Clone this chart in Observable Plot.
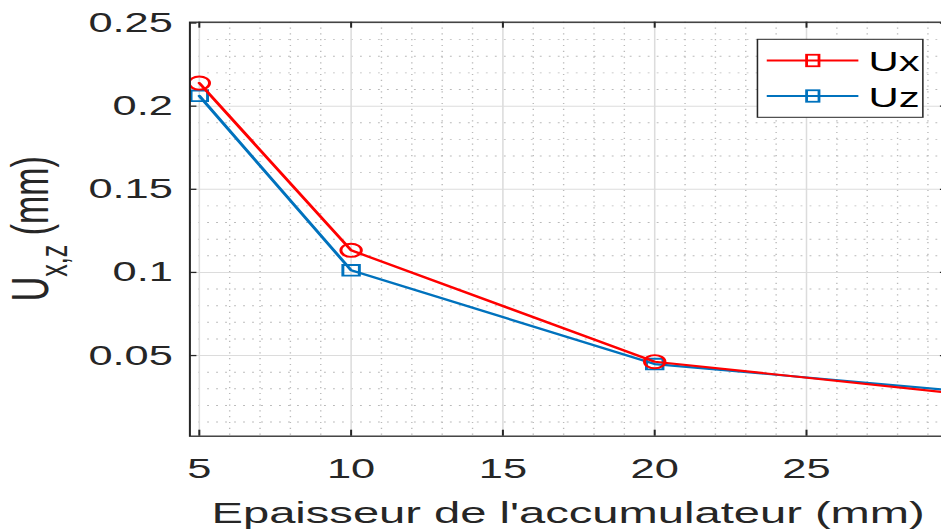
<!DOCTYPE html>
<html>
<head>
<meta charset="utf-8">
<script src="https://cdn.jsdelivr.net/npm/d3@7"></script>
<script src="https://cdn.jsdelivr.net/npm/@observablehq/plot@0.6"></script>
<style>
html, body { margin: 0; padding: 0; background: #fff; overflow: hidden; }
</style>
</head>
<body>
<div id="chart"></div>
<script>
// ---- data ----
const thickness = [5, 10, 20, 30];
const ux = [0.2139, 0.1133, 0.0463, 0.0271];
const uz = [0.2062, 0.1013, 0.0449, 0.0288];
const seriesNames = ["Ux", "Uz"];
const seriesColors = ["#ff0000", "#0072bd"];
const xTicks = [5, 10, 15, 20, 25];
const xTickLabels = ["5", "10", "15", "20", "25"];
const yTicks = [0.05, 0.1, 0.15, 0.2, 0.25];
const yTickLabels = ["0.05", "0.1", "0.15", "0.2", "0.25"];
const xLabel = "Epaisseur de l'accumulateur (mm)";
const yLabelMain = "U", yLabelSub = "x,z", yLabelUnit = " (mm)";

// ---- layout ----
const FONT = "'Liberation Sans', Arial, Helvetica, sans-serif";
const OUT_W = 941, H = 531;
const W0 = 607;                    // base width, stretched horizontally to 941
const xDomain = [4.69, 29.66], yDomain = [0.0015, 0.2505];
const mL = 122, mR = -4, mT = 21.7, mB = 95.3;
const frameW = (W0 - mR) - mL;
const frameH = H - mT - mB;

const xMinor = d3.range(5, 30).filter(v => v % 5 !== 0);
const yMinor = d3.range(1, 26).map(v => v / 100).filter((v, i) => (i + 1) % 5 !== 0);

const uxRows = thickness.map((t, i) => ({t, v: ux[i]}));
const uzRows = thickness.map((t, i) => ({t, v: uz[i]}));

const axisColor = "#262626";

const svg = Plot.plot({
  width: W0, height: H,
  marginLeft: mL, marginRight: mR, marginTop: mT, marginBottom: mB,
  x: {domain: xDomain},
  y: {domain: yDomain},
  style: {fontFamily: FONT, background: "white", color: axisColor},
  marks: [
    Plot.ruleY(yMinor, {stroke: "#b9b9b9", strokeWidth: 0.9, strokeDasharray: "1.2,4.6"}),
    Plot.ruleX(xMinor, {stroke: "#b9b9b9", strokeWidth: 0.9, strokeDasharray: "1.2,4.6"}),
    Plot.ruleY(yTicks, {stroke: "#dcdcdc", strokeWidth: 1}),
    Plot.ruleX(xTicks, {stroke: "#dcdcdc", strokeWidth: 1}),
    Plot.line(uzRows, {x: "t", y: "v", stroke: seriesColors[1], strokeWidth: 2.2, clip: true}),
    Plot.dot(uzRows, {x: "t", y: "v", symbol: "square", r: 6, stroke: seriesColors[1], strokeWidth: 1.9, fill: "none", clip: true}),
    Plot.line(uxRows, {x: "t", y: "v", stroke: seriesColors[0], strokeWidth: 2.2, clip: true}),
    Plot.dot(uxRows, {x: "t", y: "v", symbol: "circle", r: 6.6, stroke: seriesColors[0], strokeWidth: 1.9, fill: "none", clip: true}),
    Plot.frame({stroke: axisColor, strokeWidth: 1.3}),
    Plot.tickY(yTicks, {stroke: axisColor, strokeWidth: 1.3, insetRight: frameW - 4.7}),
    Plot.tickY(yTicks, {stroke: axisColor, strokeWidth: 1.3, insetLeft: frameW - 4.7}),
    Plot.tickX(xTicks, {stroke: axisColor, strokeWidth: 1.3, insetTop: frameH - 6}),
    Plot.tickX(xTicks, {stroke: axisColor, strokeWidth: 1.3, insetBottom: frameH - 6}),
    Plot.axisY(yTicks, {anchor: "left", tickSize: 0, tickPadding: 11, fontSize: 28, fill: axisColor,
      tickFormat: d => yTickLabels[yTicks.indexOf(d)], label: null}),
    Plot.axisX(xTicks, {anchor: "bottom", tickSize: 0, tickPadding: 22, fontSize: 28, fill: axisColor,
      tickFormat: d => xTickLabels[xTicks.indexOf(d)], label: null})
  ]
});

// stretch horizontally like the reference
svg.setAttribute("width", OUT_W);
svg.setAttribute("height", H);
svg.setAttribute("viewBox", `0 0 ${W0} ${H}`);
svg.setAttribute("preserveAspectRatio", "none");
svg.style.maxWidth = "none";
svg.style.width = OUT_W + "px";
svg.style.height = H + "px";
svg.style.display = "block";

const s = d3.select(svg);

// x label
s.append("text")
  .attr("x", (mL + W0 - mR) / 2).attr("y", 523.3)
  .attr("text-anchor", "middle").attr("font-size", 30.4)
  .attr("font-family", FONT).attr("fill", axisColor)
  .text(xLabel);

// y label with subscript
const yl = s.append("text")
  .attr("transform", `translate(31.2, ${mT + frameH / 2}) rotate(-90)`)
  .attr("text-anchor", "middle").attr("font-size", 34)
  .attr("font-family", FONT).attr("fill", axisColor)
  .style("white-space", "pre");
yl.append("tspan").text(yLabelMain);
yl.append("tspan").attr("font-size", 25).attr("dy", 12).text(yLabelSub);
yl.append("tspan").attr("dy", -12).text(yLabelUnit);

// legend
const lg = s.append("g");
lg.append("rect")
  .attr("x", 488.6).attr("y", 39.3).attr("width", 106.7).attr("height", 78)
  .attr("fill", "white").attr("stroke", axisColor).attr("stroke-width", 1);
seriesNames.forEach((name, i) => {
  const y = [60.5, 96][i];
  lg.append("line")
    .attr("x1", 494.6).attr("x2", 553.7).attr("y1", y).attr("y2", y)
    .attr("stroke", seriesColors[i]).attr("stroke-width", 2);
  lg.append("rect")
    .attr("x", 524.3 - 4).attr("y", y - 5.75).attr("width", 8).attr("height", 11.5)
    .attr("fill", "none").attr("stroke", seriesColors[i]).attr("stroke-width", 1.8);
  lg.append("text")
    .attr("x", 560.2).attr("y", y + 11)
    .attr("text-anchor", "start")
    .attr("font-size", 27).attr("font-family", FONT).attr("fill", "#000")
    .text(name);
});

document.getElementById("chart").appendChild(svg);
</script>
</body>
</html>
